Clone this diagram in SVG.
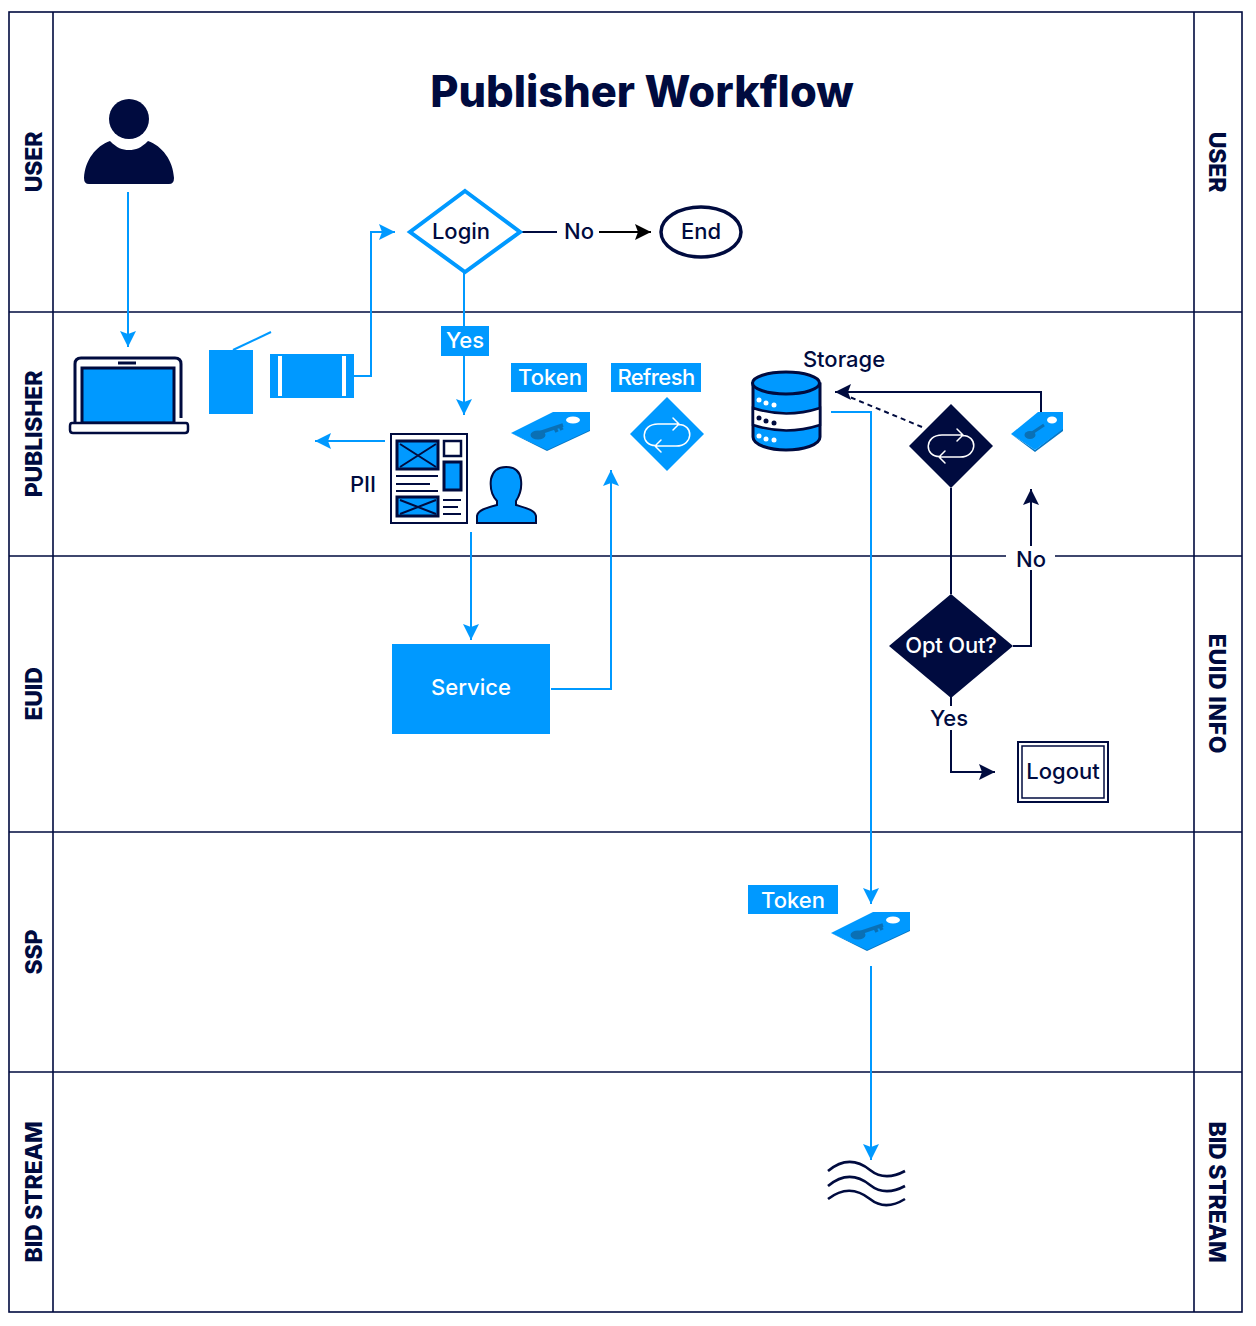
<svg xmlns="http://www.w3.org/2000/svg" width="1256" height="1326" viewBox="0 0 1256 1326">
<style>
text{font-family:"Inter","Liberation Sans",sans-serif;font-weight:500;fill:#000b3f;font-size:22px;text-anchor:middle}
.lane{font-weight:800;font-size:23px;letter-spacing:-.2px}
.w{fill:#fff}
.t{fill:#fff}
.n{fill:none;stroke:#000b3f;stroke-width:2}
.b{fill:none;stroke:#0099ff;stroke-width:2}
.fb{fill:#0099ff}
.fd{fill:#000b3f}
.ic{fill:#0099ff;stroke:#000b3f;stroke-width:3}
.loop{fill:none;stroke:#fff;stroke-width:1.5;stroke-linecap:round;stroke-linejoin:round}
</style>
<defs>
<marker id="ab" markerUnits="userSpaceOnUse" markerWidth="17" markerHeight="18" refX="16" refY="8" orient="auto"><path d="M0 0L16 8L0 16L3 8Z" fill="#0099ff"/></marker>
<marker id="ad" markerUnits="userSpaceOnUse" markerWidth="17" markerHeight="18" refX="16" refY="8" orient="auto"><path d="M0 0L16 8L0 16L3 8Z" fill="#000b3f"/></marker>
<marker id="ak" markerUnits="userSpaceOnUse" markerWidth="17" markerHeight="18" refX="16" refY="8" orient="auto"><path d="M0 0L16 8L0 16L3 8Z" fill="#000"/></marker>
<g id="tag"><path d="M0 22L36 40L79 20V18L36 38Z" fill="#0777c4"/><path d="M0 22L42 1H79V19L36 39Z" fill="#0099ff"/><ellipse cx="62" cy="9" rx="7" ry="3.5" fill="#fff"/><path d="M28 22L52 14M44 17L46 21M49 15L51 19" stroke="#0a70b5" stroke-width="3.5" fill="none"/><ellipse cx="27" cy="24" rx="7.5" ry="4.5" fill="#0a70b5"/></g>
<g id="loop"><path class="loop" d="M12 -11H-9C-27 -11 -27 11 -11 10.500M-12 11H9C27 11 27 -11 11 -10.500M6 -17L12 -11L6 -5M-6 5L-12 11L-6 17"/></g>
</defs>
<g id="swimlanes">
<rect x="9" y="12" width="1233" height="1300" fill="#fff" stroke="#000b3f" stroke-width="1.6"/>
<path d="M53 12V1312M1194 12V1312M9 312H1242M9 556H1242M9 832H1242M9 1072H1242" fill="none" stroke="#000b3f" stroke-width="1.6"/>
<text class="lane" transform="translate(42,162) rotate(-90)">USER</text>
<text class="lane" transform="translate(42,434) rotate(-90)">PUBLISHER</text>
<text class="lane" transform="translate(42,694) rotate(-90)">EUID</text>
<text class="lane" transform="translate(42,952) rotate(-90)">SSP</text>
<text class="lane" transform="translate(42,1192) rotate(-90)">BID STREAM</text>
<text class="lane" transform="translate(1209,162) rotate(90)">USER</text>
<text class="lane" transform="translate(1209,694) rotate(90)" style="letter-spacing:.7px">EUID INFO</text>
<text class="lane" transform="translate(1209,1192) rotate(90)">BID STREAM</text>
</g>
<text id="title" x="642" y="107" style="font-size:43.400px;font-weight:800">Publisher Workflow</text>
<g id="connectors">
<path class="b" d="M128 192V347" marker-end="url(#ab)"/>
<path class="b" d="M354 376H371V232H395" marker-end="url(#ab)"/>
<path class="n" d="M520 232H557"/>
<path d="M599 232H651" fill="none" stroke="#000" stroke-width="2" marker-end="url(#ak)"/>
<path class="b" d="M464 272V415" marker-end="url(#ab)"/>
<path class="b" d="M385 441H315" marker-end="url(#ab)"/>
<path class="b" d="M471 532V640" marker-end="url(#ab)"/>
<path class="b" d="M551 689H611V470" marker-end="url(#ab)"/>
<path class="b" d="M831 412H871V904" marker-end="url(#ab)"/>
<path class="b" d="M871 966V1160" marker-end="url(#ab)"/>
<path class="n" d="M1041 412V392H835" marker-end="url(#ad)"/>
<path class="n" d="M922 427L840 393" stroke-dasharray="5 4"/>
<path class="n" d="M951 488V594"/>
<path class="n" d="M1013 646H1031V489" marker-end="url(#ad)"/>
<path class="n" d="M951 696V772H995" marker-end="url(#ad)"/>
</g>
<g id="user-icon"><circle cx="129" cy="119" r="20" class="fd"/><path class="fd" d="M84 178C85 160 96 146 110 141C117 148 122 150 129 150C136 150 141 148 148 141C162 146 173 160 174 178Q174 184 169 184H89Q84 184 84 178Z"/></g>
<g id="login"><path d="M465 191L520 232L465 272L410 232Z" fill="#fff" stroke="#0099ff" stroke-width="4"/><text x="461" y="239">Login</text></g>
<g id="no-login"><text x="579" y="239">No</text></g>
<g id="end"><ellipse cx="701" cy="232" rx="40" ry="25" fill="#fff" stroke="#000b3f" stroke-width="3.500"/><text x="701" y="239">End</text></g>
<g id="laptop">
<path d="M75 422V364Q75 358 81 358H175Q181 358 181 364V418" fill="#fff" stroke="#000b3f" stroke-width="3"/>
<rect x="82" y="368" width="92" height="55" class="ic"/>
<path d="M118 363H136" stroke="#000b3f" stroke-width="3"/>
<path d="M72 423H186Q188 423 188 426V430Q188 433 185 433H73Q70 433 70 430V426Q70 423 72 423Z" fill="#fff" stroke="#000b3f" stroke-width="2.500"/>
</g>
<g id="doc-block"><rect x="209" y="350" width="44" height="64" class="fb"/><path class="b" d="M233 350L271 332"/></g>
<g id="process-block"><rect x="270" y="354" width="84" height="44" class="fb"/><path d="M280 356V396M344 356V396" stroke="#fff" stroke-width="4"/></g>
<g id="yes-label"><rect x="441" y="326" width="48" height="30" class="fb"/><text class="t" x="465" y="348">Yes</text></g>
<g id="token-label"><rect x="511" y="363" width="76" height="29" class="fb"/><text class="t" x="550" y="385">Token</text></g>
<g id="refresh-label"><rect x="611" y="363" width="90" height="29" class="fb"/><text class="t" x="656" y="385" style="letter-spacing:-.6px">Refresh</text></g>
<g id="token-1"><use href="#tag" x="511" y="411"/></g>
<g id="refresh"><path class="fb" d="M667 397L704 434L667 471L630 434Z"/><use href="#loop" x="667" y="435"/></g>
<g id="pii-page">
<rect x="391" y="434" width="76" height="89" fill="#fff" stroke="#000b3f" stroke-width="2"/>
<rect x="397" y="441" width="41" height="28" class="ic"/><path d="M400 444L436 467M400 467L436 444" class="n"/>
<rect x="444" y="441" width="17" height="15" fill="#fff" stroke="#000b3f" stroke-width="2.500"/>
<rect x="444" y="462" width="17" height="28" class="ic"/>
<path class="n" d="M396 476H438M396 484H430M396 491H438M443 500H461M443 507H458M443 514H461"/>
<rect x="397" y="497" width="41" height="19" class="ic"/><path d="M400 500L436 514M400 514L436 500" class="n"/>
</g>
<g id="pii-person"><path d="M477 523V516C478 510 486 508 497 505V501C491 495 490 487 491 479C493 470 499 467 506 467C514 467 520 471 521 480C522 488 520 495 516 501V505C526 508 535 510 536 516V523Z" fill="#0099ff" stroke="#000b3f" stroke-width="2"/></g>
<text id="pii" x="363" y="492">PII</text>
<g id="service"><rect x="392" y="644" width="158" height="90" class="fb"/><text class="t" x="471" y="695">Service</text></g>
<g id="storage">
<text x="844" y="367">Storage</text>
<path d="M753 384V437C753 445 770 450 786 450C803 450 820 445 820 437V384Z" fill="#0099ff" stroke="#000b3f" stroke-width="3"/>
<path d="M753 408Q786 419 820 408V425Q786 436 753 425Z" fill="#fff" stroke="#000b3f" stroke-width="2.500"/>
<ellipse cx="786" cy="383" rx="33.500" ry="11" fill="#0099ff" stroke="#000b3f" stroke-width="3"/>
<g class="w"><circle cx="759" cy="400" r="2.500"/><circle cx="766" cy="403" r="2.500"/><circle cx="774" cy="405" r="2.500"/><circle cx="759" cy="436" r="2.500"/><circle cx="766" cy="439" r="2.500"/><circle cx="774" cy="440" r="2.500"/></g>
<g class="fd"><circle cx="759" cy="418" r="2.500"/><circle cx="766" cy="421" r="2.500"/><circle cx="774" cy="423" r="2.500"/></g>
</g>
<g id="refresh-dark"><path class="fd" d="M951 404L993 446L951 488L909 446Z"/><use href="#loop" x="951" y="446"/></g>
<g id="token-2"><path d="M1011 434L1035 452L1063 431V428L1035 450Z" fill="#0777c4"/><path d="M1011 434L1038 412H1063V429L1035 450Z" fill="#0099ff"/><ellipse cx="1052" cy="420" rx="5" ry="3.500" fill="#fff"/><path d="M1044 425L1032 433" stroke="#0a70b5" stroke-width="3"/><ellipse cx="1030" cy="435" rx="5.500" ry="4" fill="#0a70b5"/></g>
<g id="no-optout"><rect x="1006" y="546" width="49" height="24" fill="#fff"/><text x="1031" y="567">No</text></g>
<g id="optout"><path class="fd" d="M951 594L1013 646L951 698L889 646Z"/><text class="t" x="951" y="653" style="letter-spacing:-.2px">Opt Out?</text></g>
<g id="yes-optout"><rect x="930" y="706" width="38" height="24" fill="#fff"/><text x="949" y="726">Yes</text></g>
<g id="logout"><rect x="1018" y="742" width="90" height="60" fill="#fff" stroke="#000b3f" stroke-width="2"/><rect x="1022" y="746" width="82" height="52" fill="none" stroke="#000b3f" stroke-width="1.500"/><text x="1063" y="779">Logout</text></g>
<g id="token-ssp"><rect x="748" y="885" width="90" height="29" class="fb"/><text class="t" x="793" y="908">Token</text><use href="#tag" x="831" y="911"/></g>
<g id="bid-stream"><path fill="none" stroke="#000b3f" stroke-width="2.600" d="M828 1171C846 1156 860 1162 870 1170C880 1178 892 1178 905 1171M828 1186C846 1171 860 1177 870 1185C880 1193 892 1193 905 1186M828 1199C846 1185 860 1191 870 1199C880 1207 892 1207 905 1199"/></g>
</svg>
